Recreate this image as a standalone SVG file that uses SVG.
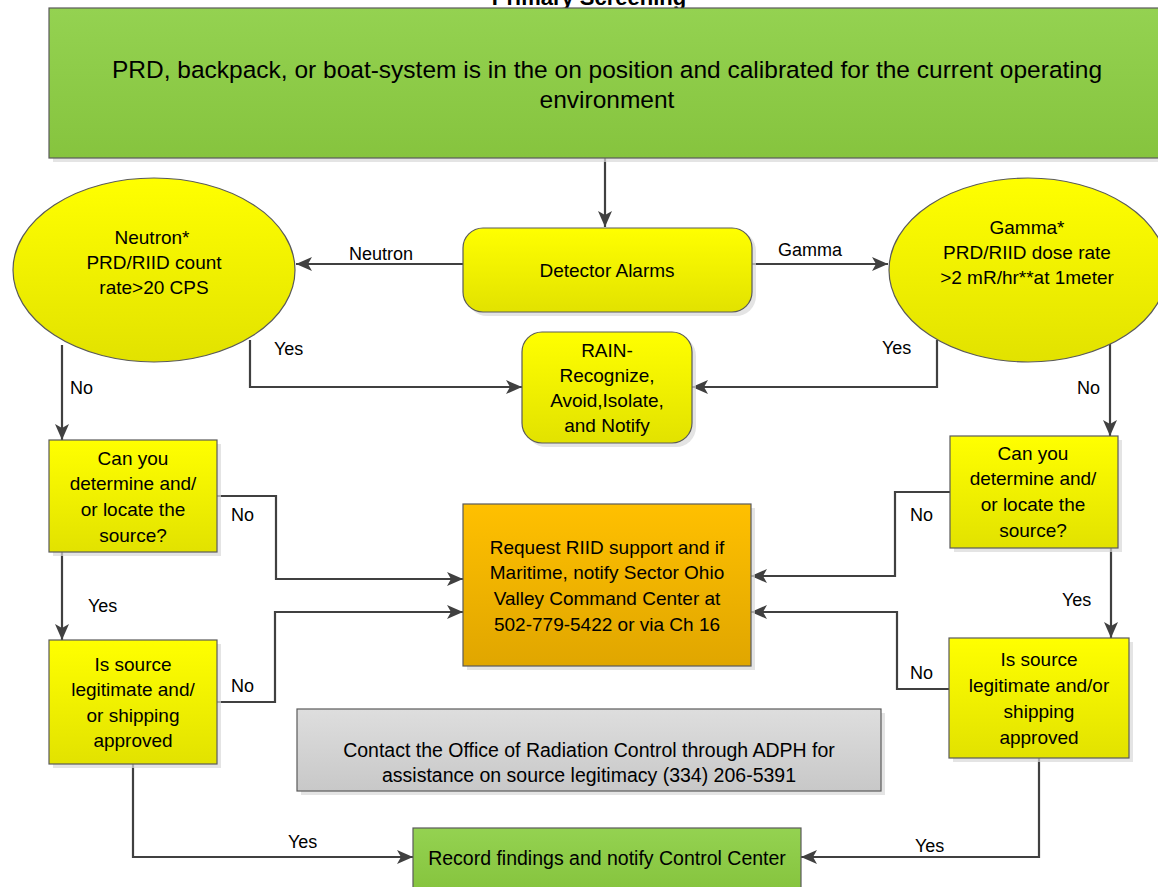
<svg xmlns="http://www.w3.org/2000/svg" width="1158" height="887" viewBox="0 0 1158 887">
<defs>
<linearGradient id="gYellow" x1="0" y1="0" x2="0" y2="1"><stop offset="0" stop-color="#FFFF00"/><stop offset="1" stop-color="#E2E200"/></linearGradient>
<linearGradient id="gGreen" x1="0" y1="0" x2="0" y2="1"><stop offset="0" stop-color="#94D251"/><stop offset="1" stop-color="#86C43E"/></linearGradient>
<linearGradient id="gOrange" x1="0" y1="0" x2="0" y2="1"><stop offset="0" stop-color="#FFC000"/><stop offset="1" stop-color="#E0A600"/></linearGradient>
<linearGradient id="gGray" x1="0" y1="0" x2="0" y2="1"><stop offset="0" stop-color="#DEDEDE"/><stop offset="1" stop-color="#C8C8C8"/></linearGradient>
<marker id="arr" viewBox="0 0 16 14" refX="16" refY="7" markerWidth="16" markerHeight="14" markerUnits="userSpaceOnUse" orient="auto">
<path d="M0,0 L16,7 L0,14 L4,7 Z" fill="#404040"/>
</marker>
</defs>
<style>
.node{stroke:#5a5a5a;stroke-width:1.2}
.sh{fill:#d9d9d9;opacity:0.7}
.t{font-family:"Liberation Sans",Arial,sans-serif;font-size:19px;fill:#000;text-anchor:middle}
.s{font-size:19.5px}
.lbl{font-family:"Liberation Sans",Arial,sans-serif;font-size:18px;fill:#000}
.c{fill:none;stroke:#404040;stroke-width:2.2}
</style>
<rect width="1158" height="887" fill="#fff"/>
<text x="589" y="5" class="t" style="font-weight:bold;font-size:22px">Primary Screening</text>

<g id="connectors">
<path class="c" d="M605,158 L605,227" marker-end="url(#arr)"/>
<path class="c" d="M463,264 L296,264" marker-end="url(#arr)"/>
<path class="c" d="M751,264 L888,264" marker-end="url(#arr)"/>
<path class="c" d="M250,340 L250,387 L522,387" marker-end="url(#arr)"/>
<path class="c" d="M937,340 L937,387 L692,387" marker-end="url(#arr)"/>
<path class="c" d="M62,345 L62,440" marker-end="url(#arr)"/>
<path class="c" d="M1110,340 L1110,436" marker-end="url(#arr)"/>
<path class="c" d="M217,496 L276,496 L276,579 L463,579" marker-end="url(#arr)"/>
<path class="c" d="M62,552 L62,640" marker-end="url(#arr)"/>
<path class="c" d="M217,702 L275,702 L275,612 L463,612" marker-end="url(#arr)"/>
<path class="c" d="M950,492 L895,492 L895,576 L751,576" marker-end="url(#arr)"/>
<path class="c" d="M1111,548 L1111,638" marker-end="url(#arr)"/>
<path class="c" d="M949,689 L897,689 L897,612 L751,612" marker-end="url(#arr)"/>
<path class="c" d="M133,764 L133,857 L413,857" marker-end="url(#arr)"/>
<path class="c" d="M1039,758 L1039,857 L801,857" marker-end="url(#arr)"/>
<text class="lbl" x="349" y="260">Neutron</text>
<text class="lbl" x="778" y="256">Gamma</text>
<text class="lbl" x="274" y="355">Yes</text>
<text class="lbl" x="882" y="354">Yes</text>
<text class="lbl" x="70" y="394">No</text>
<text class="lbl" x="1077" y="394">No</text>
<text class="lbl" x="231" y="521">No</text>
<text class="lbl" x="910" y="521">No</text>
<text class="lbl" x="88" y="612">Yes</text>
<text class="lbl" x="1062" y="606">Yes</text>
<text class="lbl" x="231" y="692">No</text>
<text class="lbl" x="910" y="679">No</text>
<text class="lbl" x="288" y="848">Yes</text>
<text class="lbl" x="915" y="852">Yes</text>
</g>

<g id="start">
<rect class="sh" x="53" y="12" width="1110" height="150"/>
<rect class="node" x="49" y="8" width="1112" height="150" fill="url(#gGreen)"/>
<text class="t" x="607" y="78" style="font-size:24.5px">PRD, backpack, or boat-system is in the on position and calibrated for the current operating</text>
<text class="t" x="607" y="108" style="font-size:24.5px">environment</text>
</g>

<g id="detector">
<rect class="sh" x="467" y="231" width="289" height="85" rx="20"/>
<rect class="node" x="463" y="228" width="289" height="84" rx="20" fill="url(#gYellow)"/>
<text class="t" x="607" y="277">Detector Alarms</text>
</g>

<g id="neutron">
<ellipse class="node" cx="154" cy="270" rx="141" ry="92" fill="url(#gYellow)"/>
<text class="t" x="152" y="244">Neutron*</text>
<text class="t" x="154" y="269">PRD/RIID count</text>
<text class="t" x="154" y="294">rate&gt;20 CPS</text>
</g>

<g id="gamma">
<ellipse class="node" cx="1028" cy="270" rx="139" ry="92" fill="url(#gYellow)"/>
<text class="t" x="1027" y="234">Gamma*</text>
<text class="t" x="1027" y="259">PRD/RIID dose rate</text>
<text class="t" x="1027" y="284">&gt;2 mR/hr**at 1meter</text>
</g>

<g id="rain">
<rect class="sh" x="526" y="336" width="170" height="111" rx="20"/>
<rect class="node" x="522" y="332" width="170" height="111" rx="20" fill="url(#gYellow)"/>
<text class="t" x="607" y="357">RAIN-</text>
<text class="t" x="607" y="382">Recognize,</text>
<text class="t" x="607" y="407">Avoid,Isolate,</text>
<text class="t" x="607" y="432">and Notify</text>
</g>

<g id="left-locate">
<rect class="sh" x="53" y="444" width="168" height="112"/>
<rect class="node" x="49" y="440" width="168" height="112" fill="url(#gYellow)"/>
<text class="t" x="133" y="465">Can you</text>
<text class="t" x="133" y="490">determine and/</text>
<text class="t" x="133" y="516">or locate the</text>
<text class="t" x="133" y="542">source?</text>
</g>

<g id="right-locate">
<rect class="sh" x="954" y="440" width="168" height="112"/>
<rect class="node" x="950" y="436" width="168" height="112" fill="url(#gYellow)"/>
<text class="t" x="1033" y="460">Can you</text>
<text class="t" x="1033" y="485">determine and/</text>
<text class="t" x="1033" y="511">or locate the</text>
<text class="t" x="1033" y="537">source?</text>
</g>

<g id="request">
<rect class="sh" x="467" y="508" width="288" height="162"/>
<rect class="node" x="463" y="504" width="288" height="162" fill="url(#gOrange)"/>
<text class="t" x="607" y="554">Request RIID support and if</text>
<text class="t" x="607" y="579">Maritime, notify Sector Ohio</text>
<text class="t" x="607" y="605">Valley Command Center at</text>
<text class="t" x="607" y="631">502-779-5422 or via Ch 16</text>
</g>

<g id="left-legit">
<rect class="sh" x="53" y="644" width="168" height="124"/>
<rect class="node" x="49" y="640" width="168" height="124" fill="url(#gYellow)"/>
<text class="t" x="133" y="671">Is source</text>
<text class="t" x="133" y="696">legitimate and/</text>
<text class="t" x="133" y="722">or shipping</text>
<text class="t" x="133" y="747">approved</text>
</g>

<g id="right-legit">
<rect class="sh" x="953" y="642" width="180" height="120"/>
<rect class="node" x="949" y="638" width="180" height="120" fill="url(#gYellow)"/>
<text class="t" x="1039" y="666">Is source</text>
<text class="t" x="1039" y="692">legitimate and/or</text>
<text class="t" x="1039" y="718">shipping</text>
<text class="t" x="1039" y="744">approved</text>
</g>

<g id="contact">
<rect class="sh" x="301" y="713" width="584" height="82"/>
<rect class="node" x="297" y="709" width="584" height="82" fill="url(#gGray)"/>
<text class="t s" x="589" y="757">Contact the Office of Radiation Control through ADPH for</text>
<text class="t s" x="589" y="782">assistance on source legitimacy (334) 206-5391</text>
</g>

<g id="record">
<rect class="node" x="413" y="828" width="388" height="62" fill="url(#gGreen)"/>
<text class="t s" x="607" y="865">Record findings and notify Control Center</text>
</g>
</svg>
